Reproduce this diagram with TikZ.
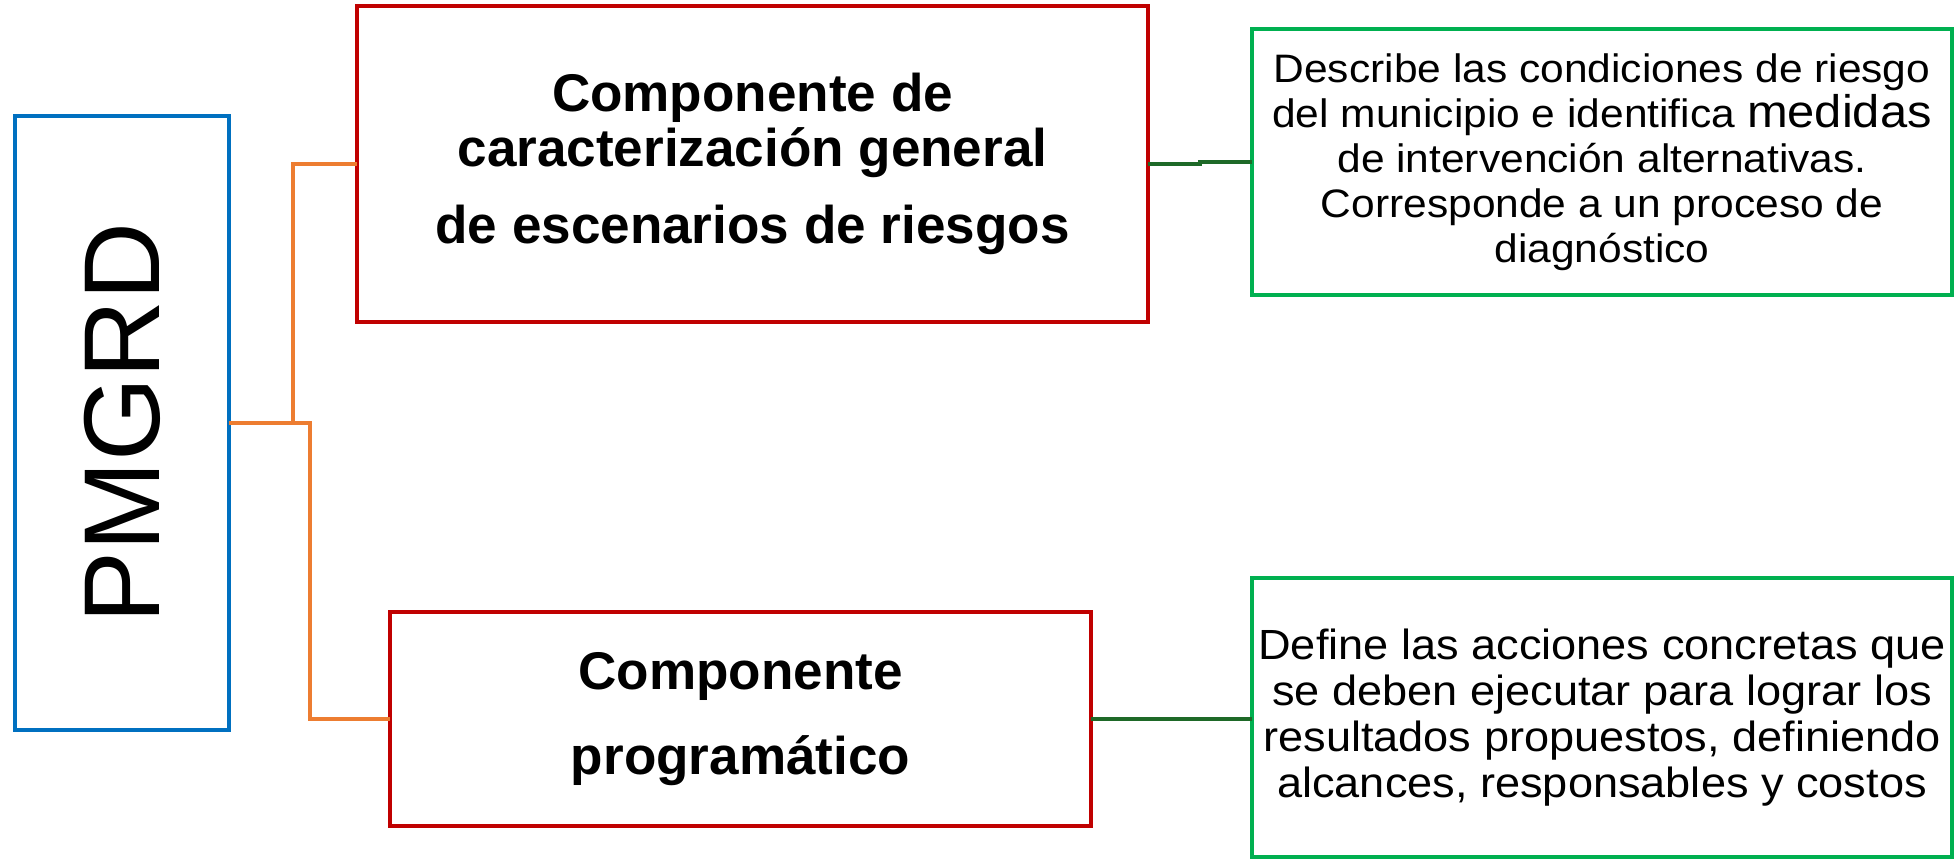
\documentclass[tikz,border=0pt]{standalone}
\usepackage{fontspec}
\setmainfont{Liberation Sans}
\newfontfamily\descfont[FakeStretch=1.07]{Liberation Sans}
\usepackage{tikz}

\definecolor{pblue}{RGB}{0,112,192}
\definecolor{pred}{RGB}{192,0,0}
\definecolor{pgreen}{RGB}{0,176,80}
\definecolor{porange}{RGB}{237,125,49}
\definecolor{pdkgreen}{RGB}{30,105,40}

\begin{document}
\begin{tikzpicture}[line width=0.9pt, every node/.style={outer sep=0pt, align=center},
  redbox/.style={draw=pred, font=\bfseries\fontsize{15.1}{15.6}\selectfont},
  greenbox/.style={draw=pgreen, minimum width=7cm, inner xsep=0.5pt, font=\descfont\fontsize{11.3}{12.8}\selectfont},
  orangeline/.style={draw=porange},
  greenline/.style={draw=pdkgreen}]
\useasboundingbox (0,0) rectangle (19.54,-8.59);

\node[draw=pblue, minimum width=2.14cm, minimum height=6.14cm, font=\fontsize{30.7}{32}\selectfont] (pmgrd) at (1.22,-4.23) {\rotatebox{90}{PMGRD}};

\node[redbox, minimum width=7.91cm, minimum height=3.16cm] (comp1) at (7.525,-1.64) {Componente de\\ caracterización general\\[6.3pt] de escenarios de riesgos};
\node[redbox, minimum width=7.01cm, minimum height=2.14cm, font=\bfseries\fontsize{15.1}{24.2}\selectfont] (comp2) at (7.405,-7.19) {Componente\\ programático};

\node[greenbox, minimum height=2.66cm] (desc1) at (16.02,-1.62) {Describe las condiciones de riesgo\\ del municipio e identifica {\fontsize{13}{12.8}\selectfont medidas}\\ de intervención alternativas.\\ Corresponde a un proceso de\\ diagnóstico};
\node[greenbox, minimum height=2.79cm, font=\descfont\fontsize{12}{13.1}\selectfont] (desc2) at (16.02,-7.175) {Define las acciones concretas que\\ se deben ejecutar para lograr los\\ resultados propuestos, definiendo\\ alcances, responsables y costos};

\draw[orangeline] (pmgrd.east) -- ++(0.81,0) |- (comp2.west);
\draw[orangeline] ([xshift=0.64cm]pmgrd.east) |- (comp1.west);
\draw[greenline] (comp1.east) -- ++(0.52,0) |- (desc1.west);
\draw[greenline] (comp2.east) -- (comp2.east -| desc2.west);
\end{tikzpicture}
\end{document}
